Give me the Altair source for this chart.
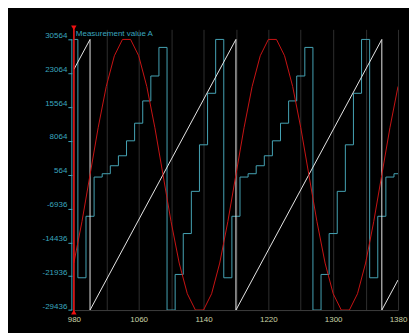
import altair as alt
import pandas as pd

# ---- data ----
x_vals = [980, 990, 1000, 1010, 1020, 1030, 1040, 1050, 1060, 1070, 1080, 1090, 1100,
          1110, 1120, 1130, 1140, 1150, 1160, 1170, 1180, 1190, 1200, 1210, 1220, 1230,
          1240, 1250, 1260, 1270, 1280, 1290, 1300, 1310, 1320, 1330, 1340, 1350, 1360,
          1370, 1380]

red_vals = [-19017, -9855, 564, 10983, 20145, 26946, 30564, 30564, 26946, 20145, 10983,
            564, -9855, -19017, -25818, -29436, -29436, -25818, -19017, -9855, 564,
            10983, 20145, 26946, 30564, 30564, 26946, 20145, 10983, 564, -9855, -19017,
            -25818, -29436, -29436, -25818, -19017, -9855, 564, 10983, 20145]

cyan_vals = [30564, -22279, -8644, 52, 789, 2558, 4769, 8086, 11992, 16930, 22457, 28795,
             -29436, -21542, -12477, -3117, 7201, 18625, 30564, -22279, -8644, 52, 789,
             2558, 4769, 8086, 11992, 16930, 22457, 28795, -29436, -21542, -12477, -3117,
             7201, 18625, 30564, -22279, -8644, 52, 789]

saw_x = [980, 1000, 1000, 1180, 1180, 1360, 1360, 1380]
saw_y = [23897, 30564, -29436, 30564, -29436, 30564, -29436, -22769]

y_ticks = [30564, 23064, 15564, 8064, 564, -6936, -14436, -21936, -29436]
x_grid = [980, 1020, 1060, 1100, 1140, 1180, 1220, 1260, 1300, 1340, 1380]
title_text = "Measurement value A"

# ---- styling ----
CYAN = "#45a3b4"
LABEL_CYAN = "#3aa6bf"
XLAB = "#c9d3a6"
RED_LINE = "#c81414"
RED_AXIS = "#ee1111"
WHITE = "#e6e6e6"
GRID = "#2e2e2e"
FONT = "Liberation Sans"

W, H = 325, 281.4

red_df = pd.DataFrame({"x": x_vals, "v": red_vals})
cyan_df = pd.DataFrame({"x": x_vals, "v": cyan_vals})
saw_df = pd.DataFrame({"x": saw_x, "v": saw_y, "i": list(range(len(saw_x)))})
tick_df = pd.DataFrame({"v": [y_ticks[0]], "v2": [y_ticks[-1]]})

x_scale = alt.Scale(domain=[980, 1380], nice=False, zero=False)
y_scale = alt.Scale(domain=[-29436, 32800], nice=False, zero=False)

x_enc = alt.X("x:Q", scale=x_scale,
              axis=alt.Axis(values=x_grid, grid=True, gridColor=GRID, gridWidth=1,
                            ticks=False, domain=True, domainColor="#3c3c3c",
                            labelExpr="(datum.value - 980) % 80 == 0 ? '' + datum.value : ''",
                            labelColor=XLAB, labelFont=FONT, labelFontSize=8,
                            labelPadding=5, labelOverlap=False, labelFlush=False),
              title=None)
y_enc = alt.Y("v:Q", scale=y_scale,
              axis=alt.Axis(values=y_ticks, grid=False, domain=False, ticks=True,
                            tickColor=LABEL_CYAN, tickSize=4, offset=2,
                            labelColor=LABEL_CYAN, labelFont=FONT, labelFontSize=8,
                            labelPadding=1, labelBaseline="bottom",
                            labelOverlap=False, labelFlush=False,
                            labelExpr="'' + datum.value"),
              title=None)

cyan = alt.Chart(cyan_df).mark_line(color=CYAN, strokeWidth=1, interpolate="step",
                                     clip=True).encode(x=x_enc, y=y_enc)
saw = alt.Chart(saw_df).mark_line(color=WHITE, strokeWidth=1, clip=True).encode(
    x=x_enc, y=y_enc, order="i:Q")
red = alt.Chart(red_df).mark_line(color=RED_LINE, strokeWidth=1, clip=True).encode(
    x=x_enc, y=y_enc)

axis_line = alt.Chart(tick_df).mark_rule(color=LABEL_CYAN, strokeWidth=1).encode(
    x=alt.value(-2), y=y_enc, y2="v2:Q")

one = pd.DataFrame({"t": [title_text]})
red_rule = alt.Chart(one).mark_rule(color=RED_AXIS, strokeWidth=1.5).encode(
    x=alt.value(0), y=alt.value(-3), y2=alt.value(H + 3))
tri_top = alt.Chart(one).mark_point(shape="triangle-down", filled=True, size=30,
                                    color=RED_AXIS, opacity=1).encode(
    x=alt.value(0), y=alt.value(-1.5))
tri_bot = alt.Chart(one).mark_point(shape="triangle-up", filled=True, size=30,
                                    color=RED_AXIS, opacity=1).encode(
    x=alt.value(0), y=alt.value(H + 2))
title = alt.Chart(one).mark_text(align="left", baseline="middle", font=FONT,
                                 fontSize=8, color=LABEL_CYAN).encode(
    x=alt.value(2), y=alt.value(5), text="t:N")

chart = alt.layer(cyan, saw, red, axis_line, red_rule, tri_top, tri_bot, title).properties(
    width=W, height=H,
    background="#000000",
    padding={"left": 66, "top": 21, "right": 11, "bottom": 25},
    autosize=alt.AutoSizeParams(type="none"),
).configure_view(stroke=None).configure_axis(labelOverlap=False)

chart.save("out.html", embed_options={"renderer": "svg", "actions": False})
